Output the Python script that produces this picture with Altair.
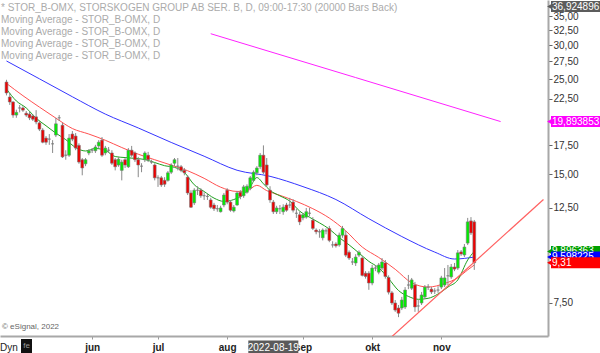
import altair as alt
import pandas as pd

# ---------------- data ----------------
opens = [24.6, 22.7, 22.1, 20.6, 21.4, 21.4, 20.8, 20.7, 20.5, 20.4,
         19.75, 19.0, 18.2, 18.1, 17.65, 18.5, 20.3, 19.5, 16.6, 16.6,
         18.6, 18.4, 17.5, 16.2, 15.85, 16.8, 17.05, 17.0, 17.45, 18.0,
         16.8, 17.05, 16.8, 16.2, 15.75, 15.3, 16.2, 15.6, 17.05, 16.8,
         16.2, 15.65, 16.2, 16.6, 16.0, 15.75, 14.7, 14.7, 14.5, 14.5,
         15.15, 15.9, 15.65, 15.6, 15.3, 14.75, 13.55, 12.85, 13.75, 13.75,
         13.35, 13.3, 13.05, 12.7, 12.45, 12.25, 12.7, 13.75, 12.9, 12.3,
         12.7, 13.6, 13.35, 13.6, 13.9, 14.5, 15.1, 15.6, 16.6, 15.75,
         13.75, 12.9, 12.25, 12.45, 12.25, 12.7, 12.7, 12.9, 12.15, 12.05,
         11.85, 11.9, 12.15, 11.7, 11.1, 11.0, 10.65, 11.05, 11.2, 10.25,
         10.3, 10.25, 10.8, 10.8, 9.85, 9.35, 9.3, 9.7, 9.55, 8.8,
         8.8, 8.35, 9.05, 8.85, 9.05, 9.3, 8.6, 7.92, 7.5, 7.3,
         7.3, 7.34, 8.26, 8.12, 8.26, 7.38, 7.5, 7.75, 8.17, 8.08,
         8.0, 8.04, 8.17, 8.26, 8.68, 8.63, 9.1, 9.05, 9.87, 9.71,
         10.35, 11.66, 11.6]
highs = [24.9, 23.2, 22.2, 21.2, 21.75, 21.6, 21.05, 20.95, 20.7, 21.15,
         19.95, 19.2, 18.4, 18.6, 18.0, 20.3, 20.6, 19.75, 17.05, 18.6,
         18.9, 18.7, 17.7, 16.35, 16.35, 17.15, 17.25, 17.55, 18.0, 18.3,
         17.45, 17.35, 17.05, 16.35, 16.45, 16.2, 16.35, 17.25, 17.45, 16.95,
         16.45, 15.9, 16.95, 16.9, 16.2, 15.9, 14.9, 14.85, 14.75, 15.25,
         15.9, 16.35, 16.35, 15.75, 15.5, 14.9, 13.75, 13.9, 14.05, 13.9,
         13.6, 13.5, 13.2, 12.85, 12.7, 12.65, 13.55, 13.9, 13.05, 12.7,
         13.7, 13.75, 14.15, 14.2, 14.85, 15.3, 15.65, 16.8, 17.5, 16.35,
         14.05, 13.05, 12.65, 12.7, 12.75, 12.85, 13.2, 13.1, 12.45, 12.25,
         12.15, 12.5, 12.5, 11.9, 11.2, 11.15, 11.2, 11.2, 11.35, 10.45,
         10.4, 10.95, 11.35, 11.05, 9.95, 9.55, 9.75, 9.95, 9.65, 8.9,
         8.9, 9.2, 9.2, 9.3, 9.55, 9.45, 8.7, 8.0, 7.62, 7.42,
         7.75, 8.17, 8.72, 8.58, 8.4, 7.62, 7.96, 8.26, 8.3, 8.17,
         8.12, 8.21, 8.68, 9.05, 9.2, 9.25, 9.3, 9.97, 9.97, 10.3,
         11.85, 11.9, 11.72]
lows = [22.9, 21.75, 20.3, 20.3, 20.9, 20.95, 20.4, 20.05, 19.95, 19.6,
        18.9, 17.7, 17.55, 17.55, 16.8, 18.3, 19.95, 16.35, 16.2, 16.45,
        17.9, 17.05, 15.85, 14.9, 15.65, 16.6, 16.8, 16.8, 17.25, 16.45,
        16.6, 16.8, 15.75, 15.3, 15.6, 14.5, 15.5, 15.5, 16.45, 16.0,
        14.75, 15.15, 16.0, 16.0, 15.85, 14.5, 14.0, 14.0, 14.0, 14.4,
        15.0, 15.65, 15.3, 15.15, 14.9, 13.4, 12.5, 12.7, 13.4, 13.2,
        13.05, 13.05, 12.45, 12.3, 12.25, 12.2, 12.55, 12.75, 12.25, 12.2,
        12.65, 13.1, 13.2, 13.5, 13.75, 14.4, 14.9, 15.4, 15.0, 14.0,
        12.85, 12.1, 12.1, 12.1, 12.05, 12.25, 12.5, 12.2, 11.85, 11.4,
        11.7, 11.8, 11.95, 11.1, 10.85, 10.65, 10.5, 10.85, 10.4, 10.1,
        10.1, 10.15, 10.65, 9.6, 9.45, 9.2, 9.15, 9.6, 8.65, 8.55,
        8.05, 8.25, 8.9, 8.75, 8.95, 8.55, 7.85, 7.42, 7.15, 6.95,
        7.22, 7.26, 8.08, 8.04, 7.15, 7.15, 7.42, 7.67, 8.04, 7.87,
        7.87, 7.92, 8.08, 8.17, 8.26, 8.54, 8.9, 8.96, 9.66, 9.6,
        10.24, 10.81, 8.96]
closes = [23.2, 22.1, 20.6, 20.9, 21.4, 21.15, 20.6, 20.3, 20.15, 19.85,
          19.1, 17.8, 17.8, 18.1, 17.65, 19.65, 20.3, 16.45, 16.6, 18.2,
          18.1, 17.25, 16.0, 15.5, 16.2, 17.0, 17.05, 17.35, 17.8, 16.6,
          17.25, 17.05, 15.9, 15.6, 16.25, 16.0, 15.75, 17.05, 16.6, 16.2,
          15.75, 15.65, 16.8, 16.2, 16.0, 14.7, 14.7, 14.15, 14.2, 15.1,
          15.75, 16.2, 15.65, 15.3, 15.1, 13.55, 12.55, 13.75, 13.75, 13.35,
          13.35, 13.3, 12.55, 12.45, 12.45, 12.5, 13.4, 12.9, 12.35, 12.55,
          13.55, 13.3, 14.0, 14.05, 14.7, 15.15, 15.5, 16.6, 15.15, 14.15,
          13.05, 12.25, 12.5, 12.45, 12.55, 12.35, 12.7, 12.35, 12.15, 11.6,
          12.05, 12.25, 12.15, 11.2, 11.0, 11.0, 11.1, 11.05, 10.5, 10.25,
          10.2, 10.8, 11.2, 9.7, 9.55, 9.35, 9.6, 9.85, 8.7, 8.65,
          8.35, 9.05, 9.05, 9.2, 9.35, 8.65, 7.95, 7.5, 7.22, 7.1,
          7.62, 8.04, 8.26, 8.49, 7.34, 7.38, 7.83, 8.17, 8.17, 7.96,
          8.0, 8.04, 8.58, 8.58, 8.68, 9.1, 9.0, 9.82, 9.76, 10.13,
          11.6, 10.93, 9.31]

green_ma_idx = [0, 3, 6, 9, 12, 15, 18, 21, 24, 27, 30, 33, 36, 39, 42, 45, 48, 51, 54, 57,
                60, 63, 66, 69, 72, 74, 76, 78, 80, 83, 86, 89, 92, 95, 98, 101, 104, 107, 110, 113,
                116, 119, 122, 125, 128, 131, 134, 137, 140, 142]
green_ma_val = [23.7, 22.22, 21.4, 20.25, 19.45, 18.69, 18.05, 17.3, 16.98, 17.21,
                17.04, 16.48, 16.39, 16.32, 16.22, 15.96, 15.69, 15.55, 15.13, 14.16,
                13.66, 13.18, 12.95, 13.08, 13.46, 14.01, 14.72, 14.24, 13.74, 13.34,
                12.97, 12.29, 11.89, 11.54, 11.16, 10.66, 10.25, 9.81, 9.38, 9.06,
                8.55, 8.02, 7.77, 7.65, 7.69, 7.87, 8.17, 8.49, 9.45, 9.90]
red_ma_idx = [0, 5, 10, 15, 20, 25, 30, 35, 40, 45, 50, 55, 60, 65, 70, 73, 76, 79, 83, 88,
              93, 98, 103, 108, 113, 118, 123, 128, 133, 137, 140, 142]
red_ma_val = [24.42, 22.86, 21.5, 20.26, 19.16, 18.6, 17.99, 17.3, 16.69, 16.2,
              15.74, 15.27, 14.66, 13.98, 13.66, 13.71, 14.12, 13.72, 13.38, 12.95,
              12.45, 11.84, 11.05, 10.13, 9.58, 8.99, 8.36, 8.17, 8.33, 8.59, 8.96, 9.2]
blue_ma_idx = [0, 10, 20, 30, 40, 50, 60, 70, 80, 90, 100, 110, 120, 130, 136, 142]
blue_ma_val = [27.55, 25.03, 22.73, 20.71, 19.22, 17.78, 16.51, 15.31, 14.82, 14.02,
               13.08, 11.80, 10.72, 9.86, 9.50, 9.60]
magenta_ma_idx = [62, 106, 150]
magenta_ma_val = [31.9, 25.2, 19.89]
trend_idx = [117, 163]
trend_val = [6.26, 13.08]

month_idx = [26, 46, 67, 90, 111, 132]
month_lbl = ["jun", "jul", "aug", "sep", "okt", "nov"]
ytick_vals = [7.5, 12.5, 15, 17.5, 22.5, 25, 27.5, 30, 32.5, 35]

tag_vals = [36.924896, 19.893853, 9.896363, 9.598225, 9.31]
tag_text = ["36,924896", "19,893853", "9,896363", "9,598225", "9,31"]
tag_cols = ["#5c5c5c", "#ff00ff", "#00a000", "#0000ff", "#ff0000"]

cursor_idx = [81]
cursor_lbl = ["2022-08-19"]

header = ("* STOR_B-OMX, STORSKOGEN GROUP AB SER. B, D, 09:00-17:30 (20000 Bars Back)\n"
          "Moving Average - STOR_B-OMX, D\n"
          "Moving Average - STOR_B-OMX, D\n"
          "Moving Average - STOR_B-OMX, D\n"
          "Moving Average - STOR_B-OMX, D")

# ---------------- layout ----------------
W, H = 548, 336
N = len(closes)
pitch = (478 - 1.5) / (N - 1)
xdom = [-1.5 / pitch, (W - 1.5) / pitch]
FONT = "Liberation Sans"

df = pd.DataFrame({"idx": list(range(N)), "open": opens, "high": highs,
                   "low": lows, "close": closes})
df["dir"] = ["up" if c >= o else "down" for o, c in zip(opens, closes)]

lbl_expr = "''"
for i, l in reversed(list(zip(month_idx, month_lbl))):
    lbl_expr = f"datum.value == {i} ? '{l}' : ({lbl_expr})"

xscale = alt.Scale(domain=xdom, nice=False, zero=False)
yscale = alt.Scale(type="log", domain=[6.28, 38.24], nice=False, zero=False)
xaxis = alt.Axis(values=month_idx, labelExpr=lbl_expr, grid=False, tickSize=3,
                 tickColor="#999999", domainColor="#a8a8a8", domainWidth=2,
                 labelFont=FONT, labelFontSize=10, labelFontWeight="bold",
                 labelColor="#222222", labelPadding=3, labelFlush=False,
                 labelOverlap=False, title=None)
yaxis = alt.Axis(orient="right", values=ytick_vals, format=".2f",
                 labelExpr="replace(datum.label, '.', ',')", grid=False,
                 tickSize=4, tickColor="#666666", domainColor="#a8a8a8",
                 domainWidth=2, labelFont=FONT, labelFontSize=10,
                 labelColor="#333333", labelPadding=1, labelFlush=False,
                 labelOverlap=False, title=None)


def X(field="idx"):
    return alt.X(f"{field}:Q", scale=xscale, axis=xaxis, title=None)


def Y(field):
    return alt.Y(f"{field}:Q", scale=yscale, axis=yaxis, title=None)


def line_layer(idx, val, color, width=1.0, clip=False):
    d = pd.DataFrame({"idx": idx, "v": val})
    return alt.Chart(d).mark_line(color=color, strokeWidth=width,
                                  interpolate="monotone", clip=clip).encode(
        x=X(), y=Y("v"))


blue = line_layer(blue_ma_idx, blue_ma_val, "#3535ff")
red = line_layer(red_ma_idx, red_ma_val, "#ff5050")
mag = line_layer(magenta_ma_idx, magenta_ma_val, "#ff22ff")
green = line_layer(green_ma_idx, green_ma_val, "#1ea01e")
trend = alt.Chart(pd.DataFrame({"idx": trend_idx, "v": trend_val})).mark_line(
    color="#ff6060", strokeWidth=1.2, clip=True).encode(x=X(), y=Y("v"))

wick = alt.Chart(df).mark_rule(color="#8a8a8a", strokeWidth=1).encode(
    x=X(), y=Y("low"), y2=alt.Y2("high:Q"))
body = alt.Chart(df).mark_bar(width=2.8, stroke="#777777", strokeWidth=0.6).encode(
    x=X(), y=Y("open"), y2=alt.Y2("close:Q"),
    color=alt.Color("dir:N", scale=alt.Scale(domain=["up", "down"],
                                             range=["#00ee00", "#ee0000"]),
                    legend=None))

layers = [blue, red, mag, green, wick, body, trend]

# value tags on the right axis
tags = pd.DataFrame({"k": list(range(len(tag_vals))), "v": tag_vals,
                     "t": tag_text, "c": tag_cols})
for k in range(len(tag_vals)):
    base = alt.Chart(tags).transform_filter(f"datum.k == {k}")
    layers.append(base.mark_tick(orient="horizontal", thickness=11, size=52,
                                 opacity=1).encode(
        x=alt.value(577), y=Y("v"), color=alt.Color("c:N", scale=None)))
    layers.append(base.mark_point(shape="triangle-left", filled=True, size=45,
                                  opacity=1).encode(
        x=alt.value(550), y=Y("v"), color=alt.Color("c:N", scale=None)))
    layers.append(base.mark_text(align="left", baseline="middle", color="white",
                                 font=FONT, fontSize=10).encode(
        x=alt.value(552), y=Y("v"), text="t:N"))

# cursor date box on x axis
cur = pd.DataFrame({"idx": cursor_idx, "t": cursor_lbl})
layers.append(alt.Chart(cur).mark_tick(orient="horizontal", thickness=13, size=50,
                                       color="#5a5a5a", opacity=1).encode(
    x=X(), y=alt.value(347)))
layers.append(alt.Chart(cur).mark_text(align="center", baseline="middle",
                                       color="white", font=FONT, fontSize=10).encode(
    x=X(), y=alt.value(347.5), text="t:N"))

# header / footer text
hdr = pd.DataFrame({"t": [header]})
layers.append(alt.Chart(hdr).mark_text(align="left", baseline="top", lineBreak="\n",
                                       lineHeight=12, color="#ababab", font=FONT,
                                       fontSize=10).encode(
    x=alt.value(1), y=alt.value(3), text="t:N"))
foot = pd.DataFrame({"t": ["\u00a9 eSignal, 2022"]})
layers.append(alt.Chart(foot).mark_text(align="left", baseline="middle",
                                        color="#666666", font=FONT, fontSize=8).encode(
    x=alt.value(2), y=alt.value(327), text="t:N"))
dyn = pd.DataFrame({"t": ["Dyn"]})
layers.append(alt.Chart(dyn).mark_text(align="left", baseline="middle",
                                       color="#222222", font=FONT, fontSize=10).encode(
    x=alt.value(0), y=alt.value(347.5), text="t:N"))
layers.append(alt.Chart(dyn).mark_rect(color="#111111").encode(
    x=alt.value(21), x2=alt.value(32), y=alt.value(339), y2=alt.value(353)))
layers.append(alt.Chart(pd.DataFrame({"t": ["fe"]})).mark_text(
    align="center", baseline="middle", color="#9a9a9a", font=FONT, fontSize=8).encode(
    x=alt.value(26.5), y=alt.value(346), text="t:N"))

chart = alt.layer(*layers).properties(
    width=W, height=H,
    autosize=alt.AutoSizeParams(type="none"),
    padding={"left": 0, "top": 0, "right": 52, "bottom": 17},
    background="white",
).configure_view(stroke=None)

chart.save("out.html", embed_options={"renderer": "svg", "actions": False})
